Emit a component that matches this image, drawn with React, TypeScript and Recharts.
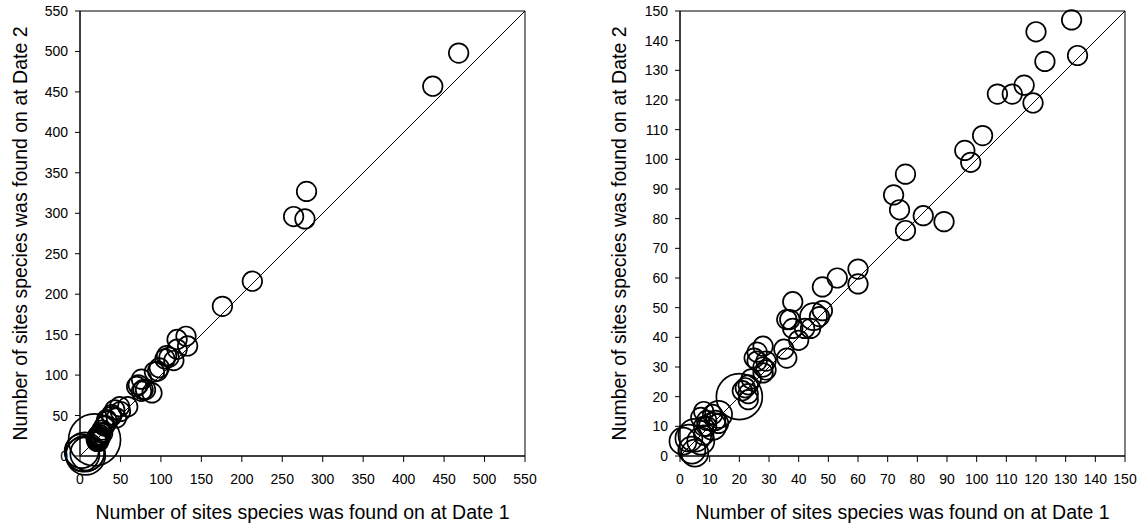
import { ScatterChart, Scatter, XAxis, YAxis, ZAxis, ReferenceLine, ReferenceArea } from "recharts";

// point = [date1, date2, weight]; weight drives the bubble size
const leftPoints: [number, number, number][] = [
  [468, 498, 1], [436, 457, 1], [280, 327, 1], [264, 296, 1], [278, 293, 1], [213, 216, 1], [176, 185, 1],
  [131, 148, 1], [120, 144, 1], [133, 136, 1], [120, 132, 1], [116, 118, 1], [107, 124, 1], [105, 120, 1],
  [110, 122, 1], [96, 105, 1], [98, 109, 1], [92, 104, 1],
  [76, 95, 1], [70, 86, 1], [72, 88, 1], [76, 80, 1], [89, 78, 1], [81, 82, 1], [78, 82, 1],
  [59, 61, 1], [50, 55, 1], [49, 61, 1], [45, 47, 1], [43, 57, 1], [39, 51, 1], [39, 49, 1], [34, 43, 1],
  [33, 45, 1], [31, 38, 1], [30, 37, 1], [28, 28, 1], [27, 32, 1],
  [25, 26, 1], [24, 24, 1], [23, 22, 1], [22, 25, 1], [21, 23, 1], [20, 21, 1], [22, 20, 1], [24, 21, 1],
  [23, 18, 1], [21, 18, 1], [25, 23, 1], [26, 29, 1],
  [18, 20, 7],
  [6, 5, 4], [2, 6, 3], [7, 1, 4], [3, 2, 3], [9, 3, 3],
];

const rightPoints: [number, number, number][] = [
  [132, 147, 1], [120, 143, 1], [123, 133, 1], [134, 135, 1], [107, 122, 1], [112, 122, 1], [116, 125, 1],
  [119, 119, 1], [102, 108, 1], [96, 103, 1], [98, 99, 1], [76, 95, 1], [72, 88, 1], [74, 83, 1], [82, 81, 1],
  [89, 79, 1], [76, 76, 1], [60, 63, 1], [60, 58, 1], [53, 60, 1], [48, 57, 1], [38, 52, 1],
  [48, 49, 1], [47, 47, 1], [45, 47, 2], [44, 43, 1], [42, 43, 1], [40, 39, 1], [38, 43, 1], [37, 46, 1],
  [36, 46, 1], [35, 36, 1], [36, 33, 1], [28, 37, 1], [26, 35, 1], [25, 33, 1], [29, 32, 1], [28, 30, 1],
  [28, 28, 1], [29, 29, 1], [26, 32, 1],
  [24, 26, 1], [23, 24, 1], [22, 23, 1], [21, 22, 1], [23, 21, 1], [23, 19, 1],
  [20, 20, 6], [13, 14, 2], [12, 12, 1], [11, 14, 1], [8, 15, 1], [9, 12, 1], [9, 10, 1], [8, 7, 1],
  [8, 10, 1], [7, 13, 1], [13, 11, 1], [11, 10, 2],
  [1, 5, 2], [5, 7, 3], [4, 2, 2], [5, 1, 2], [7, 5, 2], [3, 6, 2],
];

const leftTicks = [0, 50, 100, 150, 200, 250, 300, 350, 400, 450, 500, 550];
const rightTicks = [0, 10, 20, 30, 40, 50, 60, 70, 80, 90, 100, 110, 120, 130, 140, 150];

const xTitle = "Number of sites species was found on at Date 1";
const yTitle = "Number of sites species was found on at Date 2";

const font = "'Liberation Sans', Arial, sans-serif";
const tickStyle = { fill: "#000", fontSize: 14, fontFamily: font };
const titleStyle = { fill: "#000", fontSize: 19.5, fontFamily: font, textAnchor: "middle" as const };

function Panel({ points, ticks, max, width, yAxisWidth, yTitleOffset, rightMargin, zDomain, zRange }: {
  points: [number, number, number][];
  ticks: number[];
  max: number;
  width: number;
  yAxisWidth: number;
  yTitleOffset: number;
  rightMargin: number;
  zDomain: [number, number];
  zRange: [number, number];
}) {
  const data = points.map(([x, y, z]) => ({ x, y, z }));
  return (
    <ScatterChart width={width} height={526} margin={{ top: 11, right: rightMargin, bottom: 0, left: 0 }}>
      <ReferenceArea x1={0} x2={max} y1={0} y2={max} fill="none" stroke="#000" strokeWidth={1} />
      <XAxis
        type="number"
        dataKey="x"
        domain={[0, max]}
        ticks={ticks}
        interval={0}
        height={70}
        tickSize={6}
        tickMargin={12}
        tick={tickStyle}
        axisLine={{ stroke: "#000" }}
        tickLine={{ stroke: "#000" }}
        label={{ value: xTitle, position: "insideBottom", offset: 7, style: titleStyle }}
      />
      <YAxis
        type="number"
        dataKey="y"
        domain={[0, max]}
        ticks={ticks}
        interval={0}
        width={yAxisWidth}
        tickSize={5}
        tickMargin={7}
        tick={tickStyle}
        axisLine={{ stroke: "#000" }}
        tickLine={{ stroke: "#000" }}
        label={{ value: yTitle, angle: -90, position: "insideLeft", offset: yTitleOffset, style: titleStyle }}
      />
      <ZAxis type="number" dataKey="z" domain={zDomain} range={zRange} />
      <ReferenceLine segment={[{ x: 0, y: 0 }, { x: max, y: max }]} stroke="#000" strokeWidth={1} />
      <Scatter data={data} fill="none" stroke="#000" strokeWidth={1.7} shape="circle" isAnimationActive={false} />
    </ScatterChart>
  );
}

export default function App() {
  return (
    <div style={{ position: "absolute", left: 0, top: 0, width: 1144, height: 526, background: "#fff" }}>
      <div style={{ position: "absolute", left: 0, top: 0 }}>
        <Panel points={leftPoints} ticks={leftTicks} max={550} width={560} yAxisWidth={80}
          yTitleOffset={20} rightMargin={35} zDomain={[1, 7]} zRange={[300, 2124]} />
      </div>
      <div style={{ position: "absolute", left: 570, top: 0 }}>
        <Panel points={rightPoints} ticks={rightTicks} max={150} width={574} yAxisWidth={110}
          yTitleOffset={49} rightMargin={19} zDomain={[1, 6]} zRange={[300, 1660]} />
      </div>
    </div>
  );
}
